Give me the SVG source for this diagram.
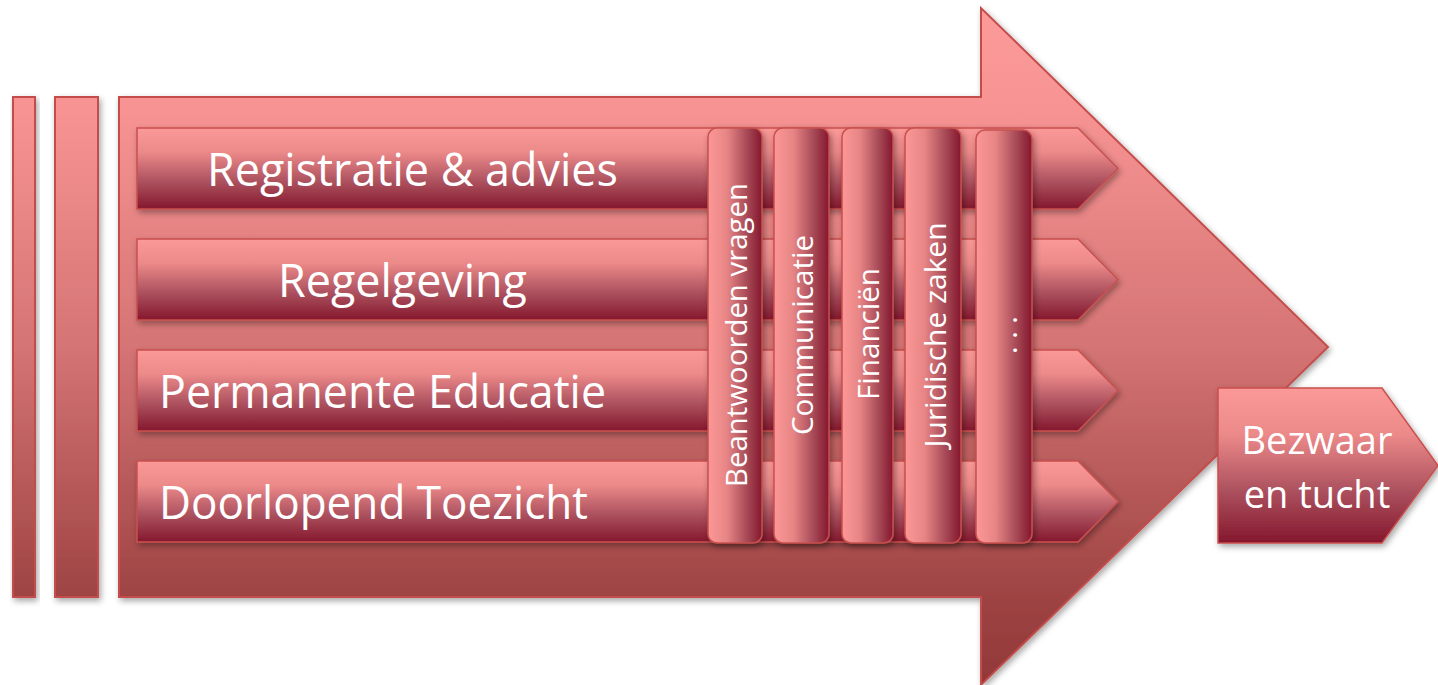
<svg xmlns="http://www.w3.org/2000/svg" width="1438" height="685" viewBox="0 0 1438 685">
<defs>
<linearGradient id="bigGrad" gradientUnits="userSpaceOnUse" x1="0" y1="8" x2="0" y2="685">
<stop offset="0" stop-color="#FC9A9A"/>
<stop offset="0.15" stop-color="#F79393"/>
<stop offset="0.5" stop-color="#D57474"/>
<stop offset="0.87" stop-color="#9E4343"/>
<stop offset="1" stop-color="#923838"/>
</linearGradient>
<linearGradient id="bandGrad" x1="0" y1="0" x2="0" y2="1">
<stop offset="0" stop-color="#FB9898"/>
<stop offset="0.3" stop-color="#EC8989"/>
<stop offset="0.65" stop-color="#AE5360"/>
<stop offset="1" stop-color="#84172D"/>
</linearGradient>
<linearGradient id="pillarGrad" x1="0" y1="0" x2="1" y2="0">
<stop offset="0" stop-color="#FC9797"/>
<stop offset="0.35" stop-color="#E78585"/>
<stop offset="0.7" stop-color="#AA4D5A"/>
<stop offset="1" stop-color="#84172D"/>
</linearGradient>
<filter id="shadow" x="-10%" y="-10%" width="130%" height="130%">
<feDropShadow dx="2" dy="3" stdDeviation="3" flood-color="#000" flood-opacity="0.35"/>
</filter>
</defs>
<style>
.big{fill:url(#bigGrad);stroke:#C44E4C;stroke-width:2;filter:url(#shadow)}
.band{fill:url(#bandGrad);stroke:#C9504E;stroke-width:1.5;filter:url(#shadow)}
.pillar{fill:url(#pillarGrad);stroke:#C9504E;stroke-width:1.5;filter:url(#shadow)}
.lbl{font-family:"Open Sans","Noto Sans",sans-serif;fill:#FFFFFF;font-size:46px}
.vlbl{font-family:"Open Sans","Noto Sans",sans-serif;fill:#FFFFFF;font-size:29px;text-anchor:middle}
.blbl{font-family:"Open Sans","Noto Sans",sans-serif;fill:#FFFFFF;font-size:38px;text-anchor:middle}
</style>

<g id="big-arrow">
<path class="big" d="M119,97 L981,97 L981,8 L1328,347 L981,685 L981,597 L119,597 Z"/>
</g>
<g id="bar-1"><rect class="big" x="13" y="97" width="22" height="500"/></g>
<g id="bar-2"><rect class="big" x="55" y="97" width="43" height="500"/></g>

<g id="band-registratie">
<path class="band" d="M137,128 L1078,128 L1118,168.5 L1078,209 L137,209 Z"/>
<text class="lbl" x="207" y="186" textLength="411" lengthAdjust="spacingAndGlyphs">Registratie &amp; advies</text>
</g>
<g id="band-regelgeving">
<path class="band" d="M137,239 L1078,239 L1118,279.5 L1078,320 L137,320 Z"/>
<text class="lbl" x="278" y="297" textLength="249" lengthAdjust="spacingAndGlyphs">Regelgeving</text>
</g>
<g id="band-permanente">
<path class="band" d="M137,350 L1078,350 L1118,390.5 L1078,431 L137,431 Z"/>
<text class="lbl" x="159" y="408" textLength="447" lengthAdjust="spacingAndGlyphs">Permanente Educatie</text>
</g>
<g id="band-doorlopend">
<path class="band" d="M137,461 L1078,461 L1118,501.5 L1078,542 L137,542 Z"/>
<text class="lbl" x="159" y="519" textLength="429" lengthAdjust="spacingAndGlyphs">Doorlopend Toezicht</text>
</g>

<g id="pillar-beantwoorden">
<rect class="pillar" x="708" y="128" width="54" height="415" rx="9"/>
<text class="vlbl" x="747" y="335" transform="rotate(-90 747 335)" textLength="304" lengthAdjust="spacingAndGlyphs">Beantwoorden vragen</text>
</g>
<g id="pillar-communicatie">
<rect class="pillar" x="774" y="128" width="55" height="415" rx="9"/>
<text class="vlbl" x="813" y="335" transform="rotate(-90 813 335)" textLength="200" lengthAdjust="spacingAndGlyphs">Communicatie</text>
</g>
<g id="pillar-financien">
<rect class="pillar" x="842" y="128" width="51" height="415" rx="9"/>
<text class="vlbl" x="879" y="334" transform="rotate(-90 879 334)" textLength="132" lengthAdjust="spacingAndGlyphs">Financiën</text>
</g>
<g id="pillar-juridische">
<rect class="pillar" x="905" y="128" width="56" height="415" rx="9"/>
<text class="vlbl" x="946" y="335" transform="rotate(-90 946 335)" textLength="225" lengthAdjust="spacingAndGlyphs">Juridische zaken</text>
</g>
<g id="pillar-more">
<rect class="pillar" x="976" y="130" width="56" height="413" rx="9"/>
<text class="vlbl" x="1017" y="335" transform="rotate(-90 1017 335)">. . .</text>
</g>

<g id="bezwaar">
<path class="band" d="M1218,388 L1382,388 L1438,465.5 L1382,543 L1218,543 Z"/>
<text class="blbl" x="1317" y="454">Bezwaar</text>
<text class="blbl" x="1317" y="508">en tucht</text>
</g>

<g id="connectors"></g>
</svg>
